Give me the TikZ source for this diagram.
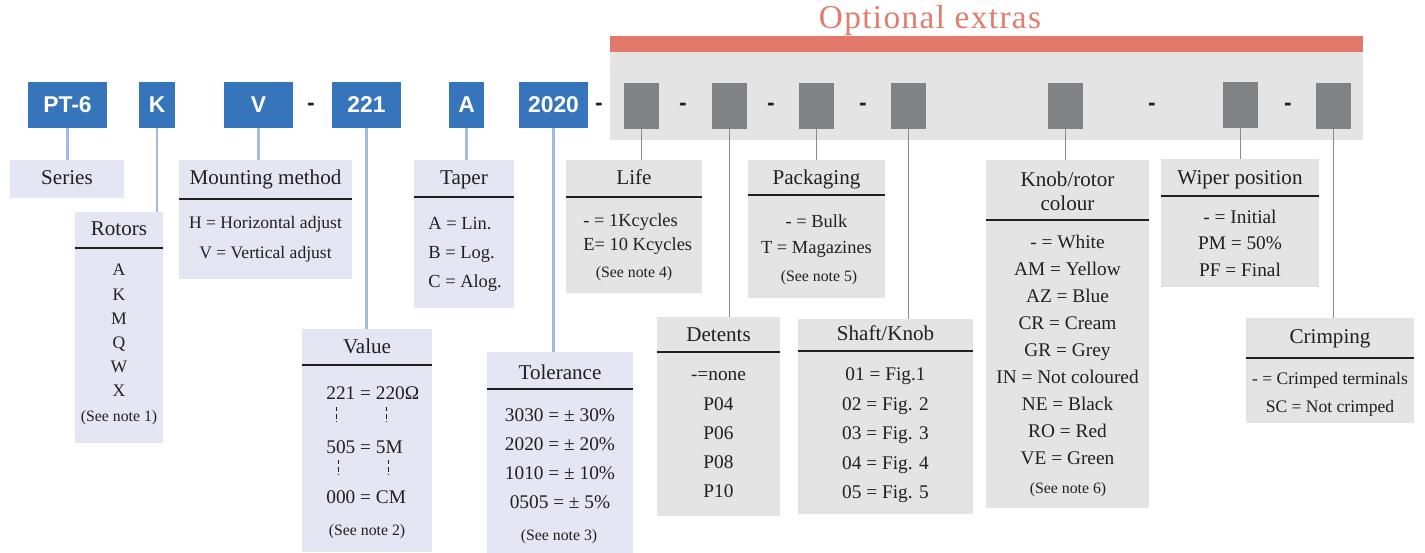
\documentclass[tikz,border=0pt]{standalone}
\usepackage{fontspec}
\setmainfont{Liberation Serif}
\setsansfont{Liberation Sans}
\usetikzlibrary{positioning,fit,calc}
\definecolor{codeblue}{RGB}{54,117,187}
\definecolor{linkblue}{RGB}{165,185,225}
\definecolor{lavender}{RGB}{229,230,244}
\definecolor{panelgray}{RGB}{228,228,228}
\definecolor{optred}{RGB}{226,120,105}
\definecolor{opttext}{RGB}{226,125,110}
\definecolor{sqgray}{RGB}{129,130,132}
\definecolor{linkgray}{RGB}{138,138,138}
\definecolor{ink}{RGB}{35,31,32}
\tikzset{
	code/.style={fill=codeblue,text=white,font=\sffamily\bfseries\fontsize{13}{15}\selectfont,minimum height=0.92cm,inner sep=0},
	extra/.style={fill=sqgray,minimum width=0.7cm,minimum height=0.92cm,inner sep=0},
	sep/.style={anchor=base,font=\sffamily\bfseries\fontsize{13}{15}\selectfont,inner sep=0},
	stdbox/.style={fill=lavender,inner sep=0},
	extbox/.style={fill=panelgray,inner sep=0},
	boxtitle/.style={anchor=base,align=center,inner sep=0,font=\fontsize{12}{13.7}\selectfont},
	boxbody/.style={anchor=north,align=center,inner sep=0},
	note/.style={inner sep=0,font=\fontsize{9}{11}\selectfont},
	boxrule/.style={draw=ink,line width=1.2pt},
	stdlink/.style={draw=linkblue,line width=1.2pt},
	extlink/.style={draw=linkgray,line width=1pt},
	tick/.style={draw=ink,line width=0.4pt,dash pattern=on 2.5pt off 1.6pt}
}
\begin{document}
\begin{tikzpicture}[x=0.02cm,y=-0.02cm,text=ink]
\useasboundingbox (0,0) rectangle (1425,553);
% optional extras panel
\node (extbar) [fill=optred,inner sep=0,fit={(610,36) (1363,52)}] {};
\node (extpanel) [fill=panelgray,inner sep=0,fit={(610,52) (1363,140)}] {};
\node (exttitle) at (930,29) [anchor=base,text=opttext,inner sep=0,font=\fontsize{19}{22}\selectfont\addfontfeature{LetterSpace=4}] {Optional extras};
% part number
\node (pt6) at (67.5,105) [code,minimum width=1.58cm] {PT-6};
\node (krot) at (157,105) [code,minimum width=0.72cm] {K};
\node (vmount) at (258.5,105) [code,minimum width=1.38cm] {V};
\node (dash1) at (311,111) [sep] {-};
\node (v221) at (366.5,105) [code,minimum width=1.38cm] {221};
\node (ataper) at (466.5,105) [code,minimum width=0.7cm] {A};
\node (t2020) at (553.5,105) [code,minimum width=1.38cm] {2020};
\node (dash2) at (599,111) [sep] {-};
\node (xlife) at (641.5,106) [extra] {};
\node (dash3) at (683,111) [sep] {-};
\node (xdet) at (729.5,106) [extra] {};
\node (dash4) at (771,111) [sep] {-};
\node (xpack) at (816.5,106) [extra] {};
\node (dash5) at (863,111) [sep] {-};
\node (xshaft) at (908.5,106) [extra] {};
\node (xcol) at (1065.5,106) [extra] {};
\node (dash6) at (1152,111) [sep] {-};
\node (xwiper) at (1240.5,105) [extra] {};
\node (dash7) at (1288,111) [sep] {-};
\node (xcrimp) at (1333.5,106) [extra] {};
% standard fields
\node (series) [stdbox,fit={(10,160) (124,198)}] {};
\node (series-t) at (67,185) [boxtitle] {Series};
\node (rotors) [stdbox,fit={(75,212) (163,443)}] {};
\node (rotors-t) at (119,236) [boxtitle] {Rotors};
\draw[boxrule] (rotors.west |- 0,248) -- (rotors.east |- 0,248);
\node (rotors-b) at (119,264) [boxbody,font=\fontsize{10}{13.7}\selectfont] {A\\K\\M\\Q\\W\\X};
\node (rotors-n) at (119,418) [note] {(See note 1)};
\node (mounting) [stdbox,fit={(179,160) (352,279)}] {};
\node (mounting-t) at (265.5,185) [boxtitle] {Mounting method};
\draw[boxrule] (mounting.west |- 0,199) -- (mounting.east |- 0,199);
\node (mounting-b) at (265.5,216) [boxbody,font=\fontsize{10}{17}\selectfont] {H = Horizontal adjust\\V = Vertical adjust};
\node (value) [stdbox,fit={(302,329) (432,552)}] {};
\node (value-t) at (367,354) [boxtitle] {Value};
\draw[boxrule] (value.west |- 0,365) -- (value.east |- 0,365);
\node (value-b) at (326,386.5) [boxbody,anchor=north west,align=left,font=\fontsize{11}{28.5}\selectfont] {221 = 220Ω\\[2.2pt]505 = 5M\\000 = CM};
\draw[tick] (336,407) -- (336,422) (386,407) -- (386,422) (338,460) -- (338,475) (388,460) -- (388,475);
\node (value-n) at (367,532) [note] {(See note 2)};
\node (taper) [stdbox,fit={(414,160) (514,308)}] {};
\node (taper-t) at (464,185) [boxtitle] {Taper};
\draw[boxrule] (taper.west |- 0,197) -- (taper.east |- 0,197);
\node (taper-b) at (428,217) [boxbody,anchor=north west,align=left,font=\fontsize{10.5}{16.5}\selectfont] {A = Lin.\\B = Log.\\C = Alog.};
\node (tolerance) [stdbox,fit={(487,352) (633,553)}] {};
\node (tolerance-t) at (560,379) [boxtitle] {Tolerance};
\draw[boxrule] (tolerance.west |- 0,389) -- (tolerance.east |- 0,389);
\node (tolerance-b) at (560,408.5) [boxbody,font=\fontsize{11}{16.5}\selectfont] {3030 = ± 30\%\\2020 = ± 20\%\\1010 = ± 10\%\\0505 = ± 5\%};
\node (tolerance-n) at (559,537) [note] {(See note 3)};
% optional fields
\node (life) [extbox,fit={(566,160) (702,293)}] {};
\node (life-t) at (634,185) [boxtitle] {Life};
\draw[boxrule] (life.west |- 0,197) -- (life.east |- 0,197);
\node (life-b) at (583,213) [boxbody,anchor=north west,align=left,font=\fontsize{10.5}{13.7}\selectfont] {- = 1Kcycles\\E= 10 Kcycles};
\node (life-n) at (634,274) [note] {(See note 4)};
\node (packaging) [extbox,fit={(748,160) (885,298)}] {};
\node (packaging-t) at (816.5,185) [boxtitle] {Packaging};
\draw[boxrule] (packaging.west |- 0,195) -- (packaging.east |- 0,195);
\node (packaging-b) at (816.5,214) [boxbody,font=\fontsize{10.5}{14.8}\selectfont] {- = Bulk\\T = Magazines};
\node (packaging-n) at (819,278) [note] {(See note 5)};
\node (detents) [extbox,fit={(657,317) (780,516)}] {};
\node (detents-t) at (718.5,342) [boxtitle] {Detents};
\draw[boxrule] (detents.west |- 0,352) -- (detents.east |- 0,352);
\node (detents-b) at (718.5,371.5) [boxbody,font=\fontsize{11}{16.6}\selectfont] {-=none\\P04\\P06\\P08\\P10};
\node (shaft) [extbox,fit={(798,319) (973,514)}] {};
\node (shaft-t) at (885.5,341) [boxtitle] {Shaft/Knob};
\draw[boxrule] (shaft.west |- 0,351) -- (shaft.east |- 0,351);
\node (shaft-b) at (885.5,367.5) [boxbody,font=\fontsize{11}{16.8}\selectfont] {01 = Fig.1\\02 = Fig. 2\\03 = Fig. 3\\04 = Fig. 4\\05 = Fig. 5};
\node (colour) [extbox,fit={(986,160) (1149,508)}] {};
\node (colour-t) at (1067.5,191) [boxtitle,anchor=center] {Knob/rotor\\colour};
\draw[boxrule] (colour.west |- 0,220) -- (colour.east |- 0,220);
\node (colour-b) at (1067.5,234.5) [boxbody,font=\fontsize{11}{15.4}\selectfont] {- = White\\AM = Yellow\\AZ = Blue\\CR = Cream\\GR = Grey\\IN = Not coloured\\NE = Black\\RO = Red\\VE = Green};
\node (colour-n) at (1068,490) [note] {(See note 6)};
\node (wiper) [extbox,fit={(1161,159) (1319,287)}] {};
\node (wiper-t) at (1240,185) [boxtitle] {Wiper position};
\draw[boxrule] (wiper.west |- 0,196) -- (wiper.east |- 0,196);
\node (wiper-b) at (1240,209.5) [boxbody,font=\fontsize{11}{15.1}\selectfont] {- = Initial\\PM = 50\%\\PF = Final};
\node (crimping) [extbox,fit={(1246,318) (1414,423)}] {};
\node (crimping-t) at (1330,344) [boxtitle] {Crimping};
\draw[boxrule] (crimping.west |- 0,358) -- (crimping.east |- 0,358);
\node (crimping-b) at (1330,372) [boxbody,font=\fontsize{10}{15.9}\selectfont] {- = Crimped terminals\\SC = Not crimped};
% links
\draw[stdlink] (pt6.south) -- (pt6.south |- series.north);
\draw[stdlink] (krot.south) -- (krot.south |- rotors.north);
\draw[stdlink] (vmount.south) -- (vmount.south |- mounting.north);
\draw[stdlink] (v221.south) -- (v221.south |- value.north);
\draw[stdlink] (ataper.south) -- (ataper.south |- taper.north);
\draw[stdlink] (t2020.south) -- (t2020.south |- tolerance.north);
\draw[extlink] (xlife.south) -- (xlife.south |- life.north);
\draw[extlink] (xdet.south) -- (xdet.south |- detents.north);
\draw[extlink] (xpack.south) -- (xpack.south |- packaging.north);
\draw[extlink] (xshaft.south) -- (xshaft.south |- shaft.north);
\draw[extlink] (xcol.south) -- (xcol.south |- colour.north);
\draw[extlink] (xwiper.south) -- (xwiper.south |- wiper.north);
\draw[extlink] (xcrimp.south) -- (xcrimp.south |- crimping.north);
\end{tikzpicture}
\end{document}
